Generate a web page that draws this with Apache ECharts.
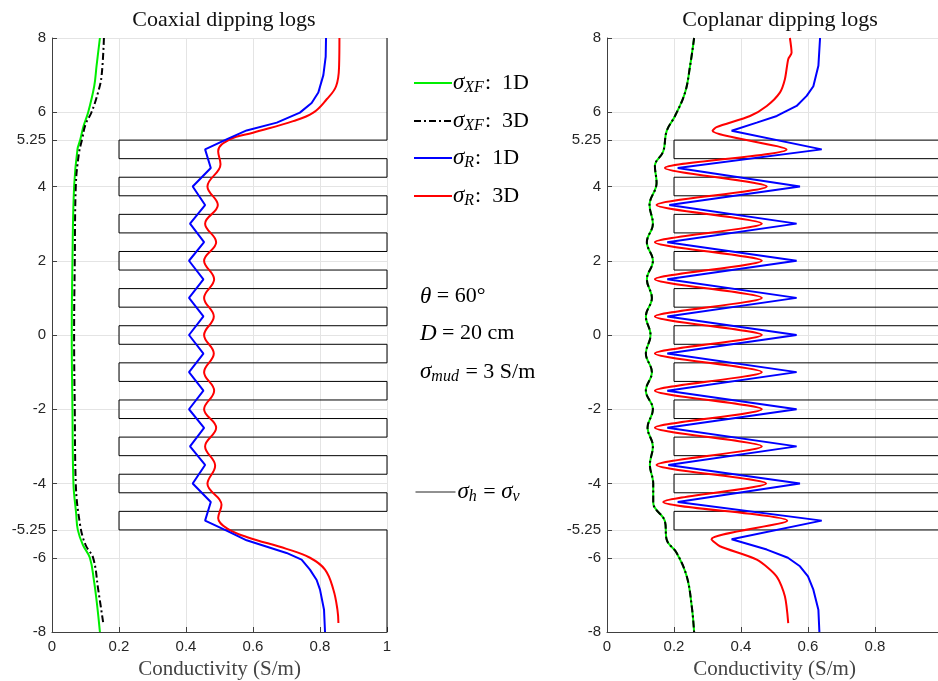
<!DOCTYPE html>
<html>
<head>
<meta charset="utf-8">
<script src="https://cdn.jsdelivr.net/npm/echarts@6/dist/echarts.min.js"></script>
<style>
  html, body { margin: 0; padding: 0; background: #fff; }
  #chart { width: 938px; height: 681px; }
</style>
</head>
<body>
<div id="chart"></div>
<script>
// depth ticks (ft) shared by both panels
var depthTicks = [8, 6, 5.25, 4, 2, 0, -2, -4, -5.25, -6, -8];

// resistive beds (top, base) and the two conductivities of the formation
var bedTop  = [5.25, 4.25, 3.25, 2.25, 1.25, 0.25, -0.75, -1.75, -2.75, -3.75, -4.75];
var bedBase = [4.75, 3.75, 2.75, 1.75, 0.75, -0.25, -1.25, -2.25, -3.25, -4.25, -5.25];
var sigmaHost = 1;
var sigmaBed = 0.2;

// coaxial logs, [sigma, depth]
var coaxXF1D = [[0.143,8],[0.133,7.25],[0.126,6.7],[0.108,6.0],[0.094,5.62],[0.084,5.25],[0.076,5.0],[0.066,4.0],[0.061,2],[0.059,0],[0.061,-2],[0.064,-4],[0.072,-4.8],[0.077,-5.25],[0.092,-5.65],[0.113,-6],[0.125,-6.6],[0.135,-7.3],[0.143,-8]];
var coaxXF3D = [[0.155,8],[0.148,6.98],[0.138,6.55],[0.118,6.0],[0.1,5.67],[0.09,5.28],[0.08,4.87],[0.071,4.0],[0.068,2],[0.066,0],[0.068,-2],[0.071,-4],[0.084,-5.12],[0.1,-5.65],[0.123,-6.01],[0.138,-6.86],[0.153,-7.76]];
var coaxR1D = [[0.818,8],[0.817,7.5],[0.81,7.0],[0.795,6.53],[0.775,6.25],[0.74,5.99],[0.671,5.72],[0.581,5.51],[0.521,5.27],[0.457,5.0],[0.474,4.5],[0.42,4.0],[0.457,3.5],[0.412,3.0],[0.454,2.5],[0.409,2.0],[0.452,1.5],[0.409,1.0],[0.452,0.5],[0.409,0],[0.452,-0.5],[0.409,-1],[0.452,-1.5],[0.409,-2],[0.454,-2.5],[0.412,-3],[0.457,-3.5],[0.42,-4],[0.474,-4.5],[0.457,-5.0],[0.521,-5.27],[0.581,-5.53],[0.70,-5.87],[0.745,-6.05],[0.77,-6.32],[0.79,-6.6],[0.80,-6.86],[0.812,-7.4],[0.815,-8]];
var coaxR3D = [[0.858,8],[0.857,7.25],[0.848,6.7],[0.82,6.35],[0.78,5.99],[0.72,5.76],[0.60,5.45],[0.531,5.27],[0.496,4.95],[0.503,4.6],[0.464,4.0],[0.495,3.5],[0.457,3.0],[0.49,2.5],[0.454,2.0],[0.484,1.5],[0.454,1.0],[0.483,0.5],[0.454,0],[0.483,-0.5],[0.454,-1],[0.484,-1.5],[0.454,-2],[0.49,-2.5],[0.457,-3],[0.487,-3.52],[0.464,-4.01],[0.506,-4.57],[0.496,-4.93],[0.521,-5.2],[0.581,-5.44],[0.70,-5.76],[0.77,-6.0],[0.815,-6.32],[0.84,-6.86],[0.852,-7.4],[0.855,-7.76]];

// coplanar logs, [sigma, depth]
var copXF = [[0.26,8],[0.248,7.25],[0.233,6.53],[0.203,5.9],[0.178,5.49],[0.168,4.95],[0.143,4.55],[0.148,4.1],[0.127,3.5],[0.137,3.0],[0.119,2.5],[0.137,2],[0.119,1.5],[0.134,1],[0.116,0.5],[0.13,0],[0.116,-0.5],[0.134,-1],[0.116,-1.5],[0.137,-2],[0.121,-2.5],[0.137,-3],[0.128,-3.5],[0.138,-4],[0.138,-4.52],[0.173,-5.02],[0.178,-5.51],[0.208,-5.87],[0.238,-6.5],[0.253,-7.31],[0.26,-8]];
var copR1D = [[0.636,8],[0.631,7.25],[0.616,6.7],[0.596,6.44],[0.566,6.17],[0.526,5.99],[0.507,5.9],[0.447,5.72],[0.372,5.5],[0.641,5.0],[0.211,4.5],[0.576,4.0],[0.186,3.5],[0.566,3.0],[0.18,2.5],[0.566,2.0],[0.18,1.5],[0.566,1.0],[0.18,0.5],[0.566,0],[0.18,-0.5],[0.566,-1],[0.18,-1.5],[0.566,-2],[0.18,-2.5],[0.566,-3],[0.183,-3.5],[0.576,-4],[0.211,-4.5],[0.641,-5],[0.372,-5.5],[0.477,-5.78],[0.54,-6.0],[0.576,-6.23],[0.6,-6.5],[0.616,-6.86],[0.631,-7.4],[0.634,-8]];
var copR3D = [[0.546,8],[0.551,7.6],[0.541,7.43],[0.531,6.89],[0.516,6.53],[0.477,6.17],[0.427,5.9],[0.327,5.6],[0.315,5.5],[0.536,5.0],[0.173,4.5],[0.477,4.0],[0.148,3.5],[0.462,3.0],[0.143,2.5],[0.462,2],[0.143,1.5],[0.462,1],[0.143,0.5],[0.462,0],[0.143,-0.5],[0.462,-1],[0.143,-1.5],[0.462,-2],[0.143,-2.5],[0.462,-3],[0.148,-3.5],[0.475,-4],[0.168,-4.5],[0.538,-5],[0.312,-5.5],[0.337,-5.69],[0.447,-6.05],[0.506,-6.5],[0.531,-7.04],[0.541,-7.76]];

var serif = '"Liberation Serif", "DejaVu Serif", serif';
var sans = '"Liberation Sans", Arial, sans-serif';

// formation profile drawn as a step line
function formation() {
  var pts = [[sigmaHost, 8]];
  for (var i = 0; i < bedTop.length; i++) {
    pts.push([sigmaHost, bedTop[i]], [sigmaBed, bedTop[i]], [sigmaBed, bedBase[i]], [sigmaHost, bedBase[i]]);
  }
  pts.push([sigmaHost, -8]);
  return pts;
}

var names = {
  xf1: 'σXF: 1D', xf3: 'σXF: 3D', r1: 'σR: 1D', r3: 'σR: 3D', iso: 'σh=σv'
};
var legendLabel = {};
legendLabel[names.xf1] = '{v|σ}{s|XF}{t|:  1D}';
legendLabel[names.xf3] = '{v|σ}{s|XF}{t|:  3D}';
legendLabel[names.r1] = '{v|σ}{s|R}{t|:  1D}';
legendLabel[names.r3] = '{v|σ}{s|R}{t|:  3D}';
legendLabel[names.iso] = '{v|σ}{s|h}{t| = }{v|σ}{s|v}';

var rich = {
  v: { fontFamily: serif, fontStyle: 'italic', fontSize: 23, lineHeight: 26, color: '#000' },
  s: { fontFamily: serif, fontStyle: 'italic', fontSize: 16, lineHeight: 16, color: '#000', padding: [10, 1, 0, 0] },
  t: { fontFamily: serif, fontSize: 22, lineHeight: 26, color: '#000' }
};

function legendRow(name, top) {
  return {
    data: [name], left: 413, top: top, orient: 'vertical', padding: 0,
    itemWidth: 38, itemHeight: 14, itemGap: 0, selectedMode: false,
    itemStyle: { opacity: 0 },
    formatter: function (n) { return legendLabel[n]; },
    textStyle: { rich: rich, padding: [0, 0, 0, -4] }
  };
}

function yAxis(idx) {
  return {
    gridIndex: idx, type: 'value', min: -8, max: 8,
    axisLine: { show: true, lineStyle: { color: '#404040', width: 1 } },
    axisTick: { show: true, inside: true, length: 5, customValues: depthTicks, lineStyle: { color: '#404040' } },
    axisLabel: { customValues: depthTicks, margin: 6, color: '#262626', fontFamily: sans, fontSize: 15 },
    splitLine: { show: true, lineStyle: { color: '#e4e4e4', width: 1 } }
  };
}
function xAxis(idx) {
  return {
    gridIndex: idx, type: 'value', min: 0, max: 1, interval: 0.2,
    name: 'Conductivity (S/m)', nameLocation: 'middle', nameGap: 22,
    nameTextStyle: { fontFamily: serif, fontSize: 21, color: '#444' },
    axisLine: { show: true, onZero: false, lineStyle: { color: '#404040', width: 1 } },
    axisTick: { show: true, inside: true, length: 5, lineStyle: { color: '#404040' } },
    axisLabel: { margin: 7, color: '#262626', fontFamily: sans, fontSize: 15 },
    splitLine: { show: true, lineStyle: { color: '#e4e4e4', width: 1 } }
  };
}

function line(name, idx, data, color, opts) {
  var s = {
    name: name, type: 'line', xAxisIndex: idx, yAxisIndex: idx, data: data,
    showSymbol: false, symbol: 'none', silent: true, clip: true,
    lineStyle: { color: color, width: 2 }, itemStyle: { color: color }
  };
  for (var k in opts) s[k] = opts[k];
  return s;
}
var dashDot = { color: '#000', width: 2, type: [7, 3, 2, 3] };

var series = [];
[0, 1].forEach(function (g) {
  series.push(line(names.iso, g, formation(), '#000', { lineStyle: { color: '#000', width: 1 }, z: 1 }));
});
series.push(line(names.xf1, 0, coaxXF1D, '#00ee00', { smooth: 0.4 }));
series.push(line(names.xf3, 0, coaxXF3D, '#000', { smooth: 0.4, lineStyle: dashDot }));
series.push(line(names.r3, 0, coaxR3D, '#ff0000', { smooth: 0.4 }));
series.push(line(names.r1, 0, coaxR1D, '#0000ff', {}));
series.push(line(names.xf1, 1, copXF, '#00ee00', { smooth: 0.4 }));
series.push(line(names.xf3, 1, copXF, '#000', { smooth: 0.4, lineStyle: dashDot }));
series.push(line(names.r3, 1, copR3D, '#ff0000', { smooth: 0.25 }));
series.push(line(names.r1, 1, copR1D, '#0000ff', {}));

var chart = echarts.init(document.getElementById('chart'));
chart.setOption({
  animation: false,
  backgroundColor: '#fff',
  title: [
    { text: 'Coaxial dipping logs', left: 219, top: 4, textAlign: 'center',
      textStyle: { fontFamily: serif, fontSize: 22, fontWeight: 'normal', color: '#111' } },
    { text: 'Coplanar dipping logs', left: 775, top: 4, textAlign: 'center',
      textStyle: { fontFamily: serif, fontSize: 22, fontWeight: 'normal', color: '#111' } }
  ],
  grid: [
    { left: 52, width: 335, top: 38, height: 594, containLabel: false, outerBoundsMode: 'none' },
    { left: 607, width: 335, top: 38, height: 594, containLabel: false, outerBoundsMode: 'none' }
  ],
  xAxis: [xAxis(0), xAxis(1)],
  yAxis: [yAxis(0), yAxis(1)],
  legend: [
    legendRow(names.xf1, 70),
    legendRow(names.xf3, 108),
    legendRow(names.r1, 145),
    legendRow(names.r3, 183),
    {
      data: [names.iso], left: 415, top: 479, padding: 0,
      itemWidth: 40, itemHeight: 14, selectedMode: false,
      itemStyle: { opacity: 0 },
      lineStyle: { width: 1, color: '#222' },
      formatter: function (n) { return legendLabel[n]; },
      textStyle: { rich: rich, padding: [0, 0, 0, -3] }
    }
  ],
  graphic: [
    { type: 'text', left: 420, top: 285, style: {
      text: '{v|θ}{t| = 60°}', rich: rich } },
    { type: 'text', left: 420, top: 322, style: {
      text: '{v|D}{t| = 20 cm}', rich: rich } },
    { type: 'text', left: 420, top: 359, style: {
      text: '{v|σ}{s|mud}{t| = 3 S/m}', rich: rich } }
  ],
  series: series
});
</script>
</body>
</html>
